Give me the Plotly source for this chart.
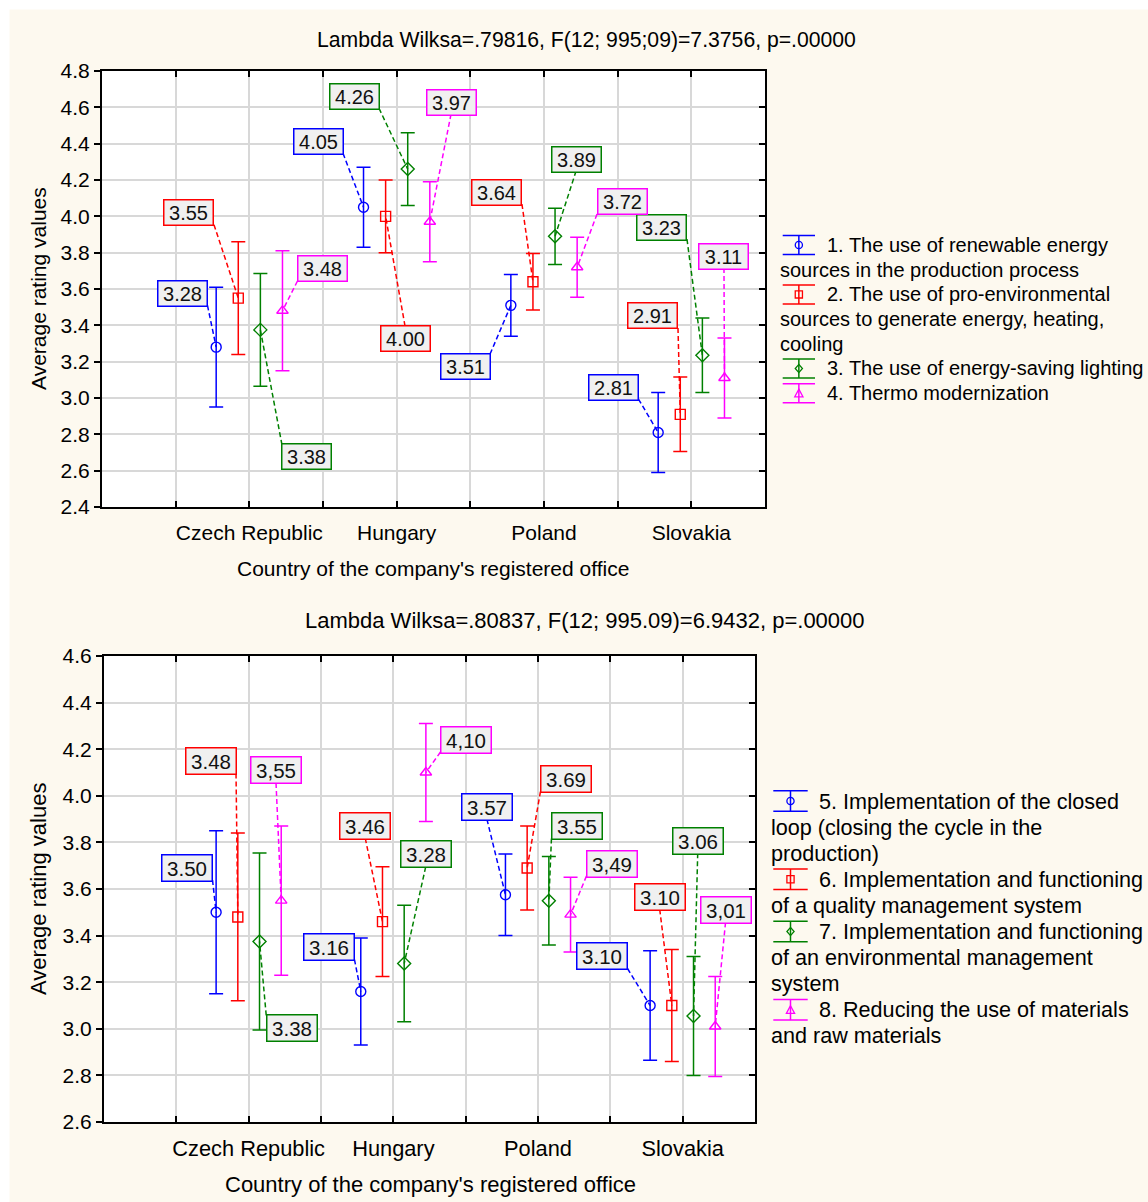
import plotly.graph_objects as go

W, H = 1148, 1202
FONT = "Arial, Liberation Sans, sans-serif"

# ---------------- data ----------------
countries = ["Czech Republic", "Hungary", "Poland", "Slovakia"]
cat_pos = [1, 2, 3, 4]

top_title = "Lambda Wilksa=.79816, F(12; 995;09)=7.3756, p=.00000"
bot_title = "Lambda Wilksa=.80837, F(12; 995.09)=6.9432, p=.00000"
y_title = "Average rating values"
x_title = "Country of the company's registered office"

top_mean_1 = [3.28, 4.05, 3.51, 2.81]
top_err_1 = [0.33, 0.22, 0.17, 0.22]
top_lbl_1 = ["3.28", "4.05", "3.51", "2.81"]
top_mean_2 = [3.55, 4.00, 3.64, 2.91]
top_err_2 = [0.31, 0.20, 0.155, 0.205]
top_lbl_2 = ["3.55", "4.00", "3.64", "2.91"]
top_mean_3 = [3.375, 4.26, 3.89, 3.235]
top_err_3 = [0.31, 0.20, 0.155, 0.205]
top_lbl_3 = ["3.38", "4.26", "3.89", "3.23"]
top_mean_4 = [3.48, 3.97, 3.72, 3.11]
top_err_4 = [0.33, 0.22, 0.165, 0.22]
top_lbl_4 = ["3.48", "3.97", "3.72", "3.11"]

bot_mean_5 = [3.50, 3.16, 3.575, 3.10]
bot_err_5 = [0.35, 0.23, 0.175, 0.235]
bot_lbl_5 = ["3.50", "3.16", "3.57", "3.10"]
bot_mean_6 = [3.48, 3.46, 3.69, 3.10]
bot_err_6 = [0.36, 0.235, 0.18, 0.24]
bot_lbl_6 = ["3.48", "3.46", "3.69", "3.10"]
bot_mean_7 = [3.375, 3.28, 3.55, 3.055]
bot_err_7 = [0.38, 0.25, 0.19, 0.255]
bot_lbl_7 = ["3.38", "3.28", "3.55", "3.06"]
bot_mean_8 = [3.55, 4.10, 3.49, 3.01]
bot_err_8 = [0.32, 0.21, 0.16, 0.215]
bot_lbl_8 = ["3,55", "4,10", "3,49", "3,01"]

top_legend = [
    ["1. The use of renewable energy", "sources in the production process"],
    ["2. The use of pro-environmental", "sources to generate energy, heating,", "cooling"],
    ["3. The use of energy-saving lighting"],
    ["4. Thermo modernization"],
]
bot_legend = [
    ["5. Implementation of the closed", "loop (closing the cycle in the", "production)"],
    ["6. Implementation and functioning", "of a quality management system"],
    ["7. Implementation and functioning", "of an environmental management", "system"],
    ["8. Reducing the use of materials", "and raw materials"],
]

# ---------------- style ----------------
colors = ["#0000FF", "#FF0000", "#008000", "#FF00FF"]
symbols = ["circle-open", "square-open", "diamond-open", "triangle-up-open"]
offsets = [-0.225, -0.075, 0.075, 0.225]

# label box offsets in px (dx, dy screen) and leader-line start corner (sx, sy)
top_lab_off = [
    [(-33.7, -53.7, 1, 1), (-45.5, -66, 1, 1), (-45.8, 60.7, 1, -1), (-44.7, -45.5, 1, 1)],
    [(-49.3, -85.4, 1, 1), (19.4, 121.7, 0, -1), (-36, -89.7, 1, 1), (-27.3, -98.4, 1, 1)],
    [(46.6, 127, -1, -1), (-53.7, -72.8, 1, 1), (21, -77.3, 0, 1), (-40.4, -128.1, 1, 1)],
    [(40, -41.8, -1, 1), (21.2, -119.7, 0, 1), (44.9, -65.2, -1, 1), (-0.5, -122, 0, 1)],
]
bot_lab_off = [
    [(-29.1, -44.8, 1, 1), (-31.8, -44.5, 1, 1), (-18.5, -88, 0, 1), (-48.1, -49.5, 1, 1)],
    [(-27.3, -156, 1, 1), (-17.2, -95.9, 0, 1), (38.8, -89, -1, 1), (-12.1, -108.5, 0, 1)],
    [(32.2, 86.4, -1, -1), (21.5, -109.1, 0, 1), (28.1, -74.7, -1, 1), (4.2, -175.3, 0, 1)],
    [(-5.2, -130.2, 0, 1), (40.1, -33, -1, 1), (41.4, -51.1, -1, 1), (10.3, -116.5, 0, 1)],
]

panels = [
    dict(means=[top_mean_1, top_mean_2, top_mean_3, top_mean_4],
         errs=[top_err_1, top_err_2, top_err_3, top_err_4],
         lbls=[top_lbl_1, top_lbl_2, top_lbl_3, top_lbl_4],
         laboff=top_lab_off, box=(102, 71, 765, 507), yr=(2.4, 4.8),
         xa="x", ya="y", ya_r="y3", title=top_title, title_xy=(586, 40),
         ytitle_xy=(38, 289), xtitle_xy=(433, 568), boxwh=(46, 22),
         fs_title=21.2, fs_axis=21, fs_cat=21, fs_leg=20, fs_lab=20,
         legend=top_legend, leg_y0=245, leg_dy=24.7, leg_x1=825.7, leg_x2=779.3,
         icon_x=(782.7, 815), icon_hh=9.5),
    dict(means=[bot_mean_5, bot_mean_6, bot_mean_7, bot_mean_8],
         errs=[bot_err_5, bot_err_6, bot_err_7, bot_err_8],
         lbls=[bot_lbl_5, bot_lbl_6, bot_lbl_7, bot_lbl_8],
         laboff=bot_lab_off, box=(104, 656, 755, 1122), yr=(2.6, 4.6),
         xa="x2", ya="y2", ya_r="y4", title=bot_title, title_xy=(585, 620),
         ytitle_xy=(38, 889), xtitle_xy=(430, 1184), boxwh=(47, 23),
         fs_title=22, fs_axis=22, fs_cat=21.8, fs_leg=21.6, fs_lab=20.5,
         legend=bot_legend, leg_y0=801, leg_dy=26.1, leg_x1=818.3, leg_x2=770,
         icon_x=(773.3, 807.7), icon_hh=10.3),
]

XR = (0, 4.5)


def P(x, y):
    return x / W, 1 - y / H


fig = go.Figure()
shapes = []
annotations = []

# page background: cream with thin white strips top/left
shapes.append(dict(type="rect", xref="paper", yref="paper", x0=0, x1=1, y0=1 - 9.5 / H, y1=1,
                   fillcolor="white", line_width=0, layer="below"))
shapes.append(dict(type="rect", xref="paper", yref="paper", x0=0, x1=9.5 / W, y0=0, y1=1,
                   fillcolor="white", line_width=0, layer="below"))

layout_axes = {}
for pi, p in enumerate(panels):
    x0, y0, x1, y1 = p["box"]
    pxu_x = (x1 - x0) / (XR[1] - XR[0])
    pxu_y = (y1 - y0) / (p["yr"][1] - p["yr"][0])
    bw, bh = p["boxwh"]
    half_w, half_h = (bw + 4) / 2, (bh + 2) / 2
    for si in range(4):
        xs = [c + offsets[si] for c in cat_pos]
        fig.add_trace(go.Scatter(
            x=xs, y=p["means"][si], mode="markers", xaxis=p["xa"], yaxis=p["ya"],
            marker=dict(symbol=symbols[si], size=10, color=colors[si], line=dict(width=1.4, color=colors[si])),
            error_y=dict(type="data", array=p["errs"][si], color=colors[si], thickness=1.5, width=7),
            showlegend=False, hoverinfo="skip"))
        for ci in range(4):
            dx, dy, sx, sy = p["laboff"][si][ci]
            xv, yv = xs[ci], p["means"][si][ci]
            lx = xv + dx / pxu_x
            ly = yv - dy / pxu_y
            stx = lx + sx * half_w / pxu_x
            sty = ly - sy * half_h / pxu_y
            shapes.append(dict(type="line", xref=p["xa"], yref=p["ya"], x0=stx, y0=sty, x1=xv, y1=yv,
                               line=dict(color=colors[si], width=1.5, dash="5px,3px"), layer="above"))
            annotations.append(dict(x=lx, y=ly, xref=p["xa"], yref=p["ya"], text=p["lbls"][si][ci],
                                    showarrow=False, font=dict(family=FONT, size=p["fs_lab"], color="#111"),
                                    bgcolor="#F0F0F0", bordercolor=colors[si], borderwidth=1.5,
                                    borderpad=1, width=bw, height=bh, xanchor="center", yanchor="middle"))
    # empty trace to activate right-side tick axis
    fig.add_trace(go.Scatter(x=[None], y=[None], xaxis=p["xa"], yaxis=p["ya_r"], showlegend=False,
                             hoverinfo="skip"))

    xkey = "xaxis" if pi == 0 else "xaxis2"
    ykey = "yaxis" if pi == 0 else "yaxis2"
    yrkey = "yaxis3" if pi == 0 else "yaxis4"
    xt = [k * 0.5 for k in range(10)]
    xtt = [countries[cat_pos.index(int(v))] if float(v).is_integer() and int(v) in cat_pos else "" for v in xt]
    nt = int(round((p["yr"][1] - p["yr"][0]) / 0.2))
    yt = [round(p["yr"][0] + 0.2 * k, 1) for k in range(nt + 1)]
    layout_axes[xkey] = dict(
        domain=[x0 / W, x1 / W], range=list(XR), anchor=p["ya"], tickvals=xt, ticktext=xtt,
        showgrid=True, gridcolor="#D8D8D8", gridwidth=1.5, zeroline=False, automargin=False,
        ticks="inside", ticklen=6, tickwidth=1.5, tickcolor="black",
        showline=True, linecolor="black", linewidth=2, mirror="ticks",
        tickfont=dict(family=FONT, size=p["fs_cat"], color="black"), ticklabelstandoff=6)
    layout_axes[ykey] = dict(
        domain=[1 - y1 / H, 1 - y0 / H], range=list(p["yr"]), anchor=p["xa"], tickvals=yt,
        ticktext=["%.1f" % v for v in yt], automargin=False,
        showgrid=True, gridcolor="#D8D8D8", gridwidth=1.5, zeroline=False,
        ticks="outside", ticklen=6, tickwidth=1.5, tickcolor="black",
        showline=True, linecolor="black", linewidth=2, mirror=True,
        tickfont=dict(family=FONT, size=21, color="black"))
    layout_axes[yrkey] = dict(
        overlaying=p["ya"], side="right", anchor=p["xa"], range=list(p["yr"]), tickvals=yt,
        ticks="inside", ticklen=6, tickwidth=1.5, tickcolor="black", showticklabels=False,
        showgrid=False, zeroline=False, showline=False, automargin=False)

    # titles
    tx, ty = P(*p["title_xy"])
    annotations.append(dict(x=tx, y=ty, xref="paper", yref="paper", text=p["title"], showarrow=False,
                            font=dict(family=FONT, size=p["fs_title"], color="black"),
                            xanchor="center", yanchor="middle"))
    tx, ty = P(*p["ytitle_xy"])
    annotations.append(dict(x=tx, y=ty, xref="paper", yref="paper", text=y_title, showarrow=False,
                            textangle=-90, font=dict(family=FONT, size=p["fs_axis"], color="black"),
                            xanchor="center", yanchor="middle"))
    tx, ty = P(*p["xtitle_xy"])
    annotations.append(dict(x=tx, y=ty, xref="paper", yref="paper", text=x_title, showarrow=False,
                            font=dict(family=FONT, size=p["fs_axis"], color="black"),
                            xanchor="center", yanchor="middle"))

    # custom legend
    line_i = 0
    ix0, ix1 = p["icon_x"]
    ixc = (ix0 + ix1) / 2
    hh = p["icon_hh"]
    for si, entry in enumerate(p["legend"]):
        for li, txt in enumerate(entry):
            yc = p["leg_y0"] + line_i * p["leg_dy"]
            xs_ = p["leg_x1"] if li == 0 else p["leg_x2"]
            ax_, ay_ = P(xs_, yc)
            annotations.append(dict(x=ax_, y=ay_, xref="paper", yref="paper", text=txt, showarrow=False,
                                    font=dict(family=FONT, size=p["fs_leg"], color="black"),
                                    xanchor="left", yanchor="middle", borderpad=0))
            if li == 0:
                col = colors[si]
                for yy in (yc - hh, yc + hh):
                    a, b = P(ix0, yy)
                    c, d = P(ix1, yy)
                    shapes.append(dict(type="line", xref="paper", yref="paper", x0=a, y0=b, x1=c, y1=d,
                                       line=dict(color=col, width=1.5)))
                a, b = P(ixc, yc - hh)
                c, d = P(ixc, yc + hh)
                shapes.append(dict(type="line", xref="paper", yref="paper", x0=a, y0=b, x1=c, y1=d,
                                   line=dict(color=col, width=1.5)))
                r = 3.6
                if si == 0:
                    a, b = P(ixc - r, yc - r)
                    c, d = P(ixc + r, yc + r)
                    shapes.append(dict(type="circle", xref="paper", yref="paper", x0=a, y0=b, x1=c, y1=d,
                                       line=dict(color=col, width=1.3)))
                elif si == 1:
                    a, b = P(ixc - r, yc - r)
                    c, d = P(ixc + r, yc + r)
                    shapes.append(dict(type="rect", xref="paper", yref="paper", x0=a, y0=b, x1=c, y1=d,
                                       line=dict(color=col, width=1.3)))
                else:
                    if si == 2:
                        pts = [(ixc, yc - r - 0.5), (ixc + r, yc), (ixc, yc + r + 0.5), (ixc - r, yc)]
                    else:
                        pts = [(ixc, yc - r - 0.5), (ixc + r + 0.5, yc + r), (ixc - r - 0.5, yc + r)]
                    cp = [P(*q) for q in pts]
                    path = "M " + " L ".join("%f,%f" % q for q in cp) + " Z"
                    shapes.append(dict(type="path", xref="paper", yref="paper", path=path,
                                       line=dict(color=col, width=1.3)))
            line_i += 1

fig.update_layout(
    width=W, height=H, autosize=False,
    margin=dict(l=0, r=0, t=0, b=0, pad=0, autoexpand=False),
    paper_bgcolor="#FDF9EF", plot_bgcolor="white", showlegend=False,
    font=dict(family=FONT, color="black"),
    shapes=shapes, annotations=annotations, **layout_axes)

post = (
    "document.documentElement.style.margin='0';"
    "document.body.style.margin='0';"
    "document.body.style.padding='0';"
    "document.documentElement.style.overflow='hidden';"
    "document.body.style.overflow='hidden';"
    "var d=document.getElementById('{plot_id}');"
    "d.style.position='absolute';d.style.left='0px';d.style.top='0px';"
)

fig.write_html("out.html", config={"displayModeBar": False, "responsive": False}, post_script=post)
